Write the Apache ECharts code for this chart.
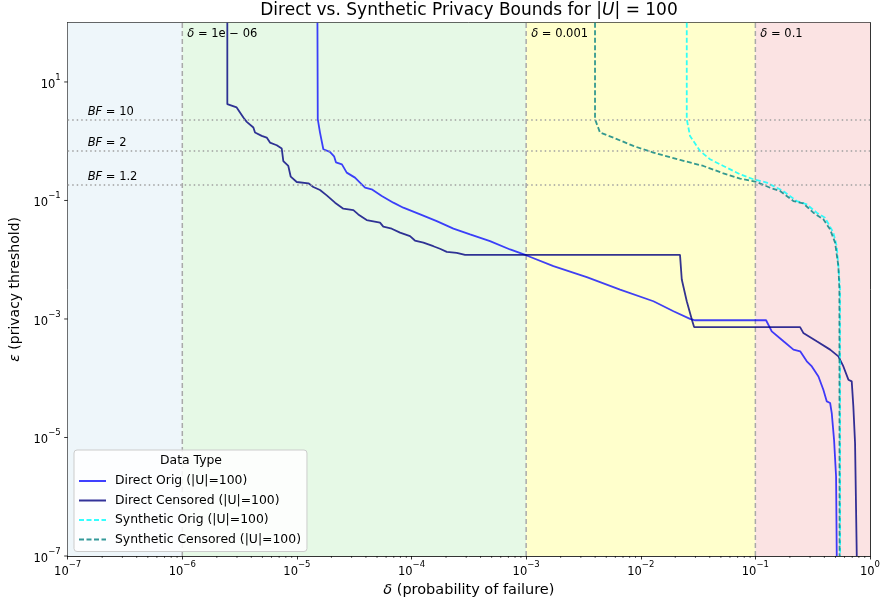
<!DOCTYPE html>
<html><head><meta charset="utf-8">
<script src="https://cdn.jsdelivr.net/npm/echarts@6/dist/echarts.min.js"></script>
<style>html,body{margin:0;padding:0;background:#fff}#c{width:883px;height:606px}</style>
</head><body><div id="c"></div>
<script>
// ---- data (delta, epsilon) ----
const directOrig = [[1.51e-5,100],[1.52e-5,2.35],[1.59e-5,1.40],[1.70e-5,0.731],[1.94e-5,0.663],[2.11e-5,0.557],[2.19e-5,0.441],[2.47e-5,0.407],[2.72e-5,0.295],[3.21e-5,0.243],[3.55e-5,0.200],[3.93e-5,0.164],[4.49e-5,0.154],[5.50e-5,0.119],[6.94e-5,0.0918],[8.48e-5,0.0755],[1.19e-4,0.0582],[1.66e-4,0.0449],[2.32e-4,0.0334],[3.24e-4,0.0267],[4.84e-4,0.0206],[7.24e-4,0.0149],[1.01e-3,0.0118],[1.73e-3,0.00778],[3.38e-3,0.00507],[6.60e-3,0.00314],[1.29e-2,0.00199],[1.93e-2,0.00135],[2.69e-2,0.001005],[2.98e-2,0.000951],[0.124,0.000951],[0.139,0.000619],[0.176,0.00042],[0.215,0.000304],[0.246,0.000284],[0.281,0.000193],[0.311,0.000158],[0.355,0.000107],[0.392,6.4e-5],[0.420,4.06e-5],[0.449,3.82e-5],[0.464,2.58e-5],[0.486,9.14e-6],[0.506,2.19e-6],[0.513,1e-7]];
const directCens = [[2.47e-6,100],[2.47e-6,4.22],[2.98e-6,3.71],[3.41e-6,2.51],[3.65e-6,2.12],[4.17e-6,1.70],[4.31e-6,1.40],[4.93e-6,1.23],[5.45e-6,1.15],[5.82e-6,0.948],[6.67e-6,0.855],[7.37e-6,0.752],[7.61e-6,0.463],[8.41e-6,0.382],[8.83e-6,0.252],[9.96e-6,0.205],[1.26e-5,0.195],[1.39e-5,0.169],[1.59e-5,0.150],[1.82e-5,0.122],[2.15e-5,0.0918],[2.54e-5,0.0726],[3.11e-5,0.0688],[3.43e-5,0.0582],[4.06e-5,0.0467],[5.31e-5,0.0422],[5.67e-5,0.0361],[6.72e-5,0.0334],[7.94e-5,0.0286],[9.70e-5,0.0250],[1.07e-4,0.0211],[1.27e-4,0.0194],[1.55e-4,0.0169],[1.77e-4,0.0153],[2.03e-4,0.0136],[2.48e-4,0.0131],[2.93e-4,0.0121],[0.0220,0.0121],[0.0228,0.00463],[0.0252,0.00199],[0.0279,0.000977],[0.0292,0.00073],[0.2455,0.00073],[0.262,0.000582],[0.343,0.00042],[0.449,0.000304],[0.530,0.000234],[0.586,0.000158],[0.648,9.45e-5],[0.693,8.85e-5],[0.716,3.34e-5],[0.741,8.03e-6],[0.767,1e-7]];
const synthOrig = [[0.0252,100],[0.0252,2.35],[0.0269,1.23],[0.0329,0.684],[0.0402,0.496],[0.0526,0.382],[0.0735,0.276],[0.0960,0.228],[0.1258,0.200],[0.1755,0.144],[0.2298,0.0977],[0.281,0.0859],[0.343,0.0622],[0.4056,0.0512],[0.479,0.0286],[0.513,0.0169],[0.530,0.00778],[0.548,0.00314],[0.549,1e-7]];
const synthCens = [[3.99e-3,100],[3.99e-3,2.35],[4.41e-3,1.40],[5.77e-3,1.15],[8.62e-3,0.832],[0.01288,0.643],[0.0220,0.482],[0.0352,0.382],[0.0526,0.287],[0.0735,0.234],[0.1028,0.205],[0.1344,0.164],[0.1642,0.144],[0.2146,0.0977],[0.262,0.0893],[0.3207,0.0622],[0.392,0.0480],[0.449,0.0324],[0.496,0.0194],[0.530,0.00778],[0.541,0.00314],[0.543,1e-7]];
const seriesNames = ['Direct Orig (|U|=100)','Direct Censored (|U|=100)','Synthetic Orig (|U|=100)','Synthetic Censored (|U|=100)'];
const deltaLines = [1e-6, 1e-3, 0.1];
const deltaLabels = ['1e − 06', '0.001', '0.1'];
const bandEdges = [1e-7, 1e-6, 1e-3, 1e-1, 1];
const bfValues = [10, 2, 1.2];
const yLabelTicks = [1e-7, 1e-5, 1e-3, 1e-1, 10];
const yRange = [1e-7, 100];

const FONT = 'DejaVu Sans';
const bandColors = ['#eef6fa', '#e6f9e6', '#ffffcc', '#fbe3e3'];

function sup(v) {
  const e = Math.round(Math.log10(v));
  return '{b|10}{s|' + (e < 0 ? '−' : '') + Math.abs(e) + '}';
}
const labelRich = {
  b: {fontSize: 11.5, fontFamily: FONT, color: '#000', lineHeight: 18, verticalAlign: 'bottom'},
  s: {fontSize: 8.5, fontFamily: FONT, color: '#000', lineHeight: 18, verticalAlign: 'top'}
};

// tick helper items
const tickItems = [];
for (let d = -7; d < 0; d++) for (let m = 2; m <= 9; m++) tickItems.push([m * Math.pow(10, d), 1e-7, 0]);
yLabelTicks.forEach(v => tickItems.push([1e-7, v, 1]));

const bandData = [];
for (let i = 0; i < 4; i++) {
  bandData.push([{xAxis: bandEdges[i], itemStyle: {color: bandColors[i]},
    label: i === 0 ? {show: false} : {show: true, formatter: '{d|δ} = ' + deltaLabels[i - 1]}},
    {xAxis: bandEdges[i + 1]}]);
}

const deltaSeries = deltaLines.map((v, i) => ({
  type: 'line', name: 'delta' + i, data: [[v, yRange[0]], [v, yRange[1]]], symbol: 'none', silent: true, z: 2,
  lineStyle: {color: '#a9a9a9', type: [5, 3], width: 1.5}
}));

const chart = echarts.init(document.getElementById('c'), null, {renderer: 'canvas'});
chart.setOption({
  animation: false,
  backgroundColor: '#fff',
  textStyle: {fontFamily: FONT},
  grid: {left: 67.7, right: 13, top: 22.7, bottom: 50},
  xAxis: [{
    type: 'log', min: 1e-7, max: 1, splitNumber: 7, position: 'bottom',
    axisLine: {show: true, onZero: false, lineStyle: {color: '#000', width: 0.8}},
    axisTick: {show: true, length: 3.5, lineStyle: {color: '#000', width: 0.8}},
    axisLabel: {margin: 4, formatter: v => sup(v), rich: labelRich},
    splitLine: {show: false},
    name: '{d|δ} (probability of failure)', nameLocation: 'middle', nameGap: 25,
    nameTextStyle: {fontSize: 14.5, fontFamily: FONT, color: '#000', rich: {d: {fontStyle: 'italic', fontSize: 14.5, fontFamily: FONT}}}
  }, {
    type: 'log', min: 1e-7, max: 1, position: 'top',
    axisLine: {show: true, onZero: false, lineStyle: {color: '#000', width: 0.8}},
    axisTick: {show: false}, axisLabel: {show: false}, splitLine: {show: false}
  }],
  yAxis: [{
    type: 'log', min: yRange[0], max: yRange[1], position: 'left',
    axisLine: {show: true, onZero: false, lineStyle: {color: '#000', width: 0.8}},
    axisTick: {show: false},
    axisLabel: {margin: 7, formatter: v => {
      const e = Math.round(Math.log10(v));
      return (e % 2 !== 0) ? sup(v) : '';
    }, rich: labelRich},
    splitLine: {show: false},
    name: '{e|ε} (privacy threshold)', nameLocation: 'middle', nameGap: 43,
    nameTextStyle: {fontSize: 14, fontFamily: FONT, color: '#000', rich: {e: {fontStyle: 'italic', fontSize: 14, fontFamily: FONT}}}
  }, {
    type: 'log', min: yRange[0], max: yRange[1], position: 'right',
    axisLine: {show: true, onZero: false, lineStyle: {color: '#000', width: 0.8}},
    axisTick: {show: false}, axisLabel: {show: false}, splitLine: {show: false}
  }],
  legend: {
    data: seriesNames, orient: 'vertical', left: 74, top: 450,
    padding: [25, 6, 6, 4], itemGap: 7.5, itemWidth: 27, itemHeight: 14,
    backgroundColor: 'rgba(255,255,255,0.85)', borderColor: '#cccccc', borderWidth: 1, borderRadius: 3,
    itemStyle: {opacity: 0},
    textStyle: {fontSize: 12.4, fontFamily: FONT, color: '#000', padding: [0, 0, 0, 4]},
    selectedMode: false
  },
  graphic: [{
    type: 'text', x: 469, y: 11, z: 100,
    style: {text: 'Direct vs. Synthetic Privacy Bounds for |{i|U}| = 100', font: '17px "DejaVu Sans"', fill: '#000',
      align: 'center', verticalAlign: 'middle', rich: {i: {fontStyle: 'italic', fontSize: 17, fontFamily: FONT}}}
  }, {
    type: 'text', x: 191, y: 461, z: 100,
    style: {text: 'Data Type', font: '12.4px "DejaVu Sans"', fill: '#000', align: 'center', verticalAlign: 'middle'}
  }],
  series: [{
    type: 'line', name: 'bands', data: [[1e-7, 1e-7]], symbol: 'none', silent: true, z: 1,
    lineStyle: {width: 0},
    markArea: {
      silent: true,
      label: {position: 'insideTopLeft', distance: 5, color: '#000', fontSize: 11.5, fontFamily: FONT,
        rich: {d: {fontStyle: 'italic', fontSize: 11.5, fontFamily: FONT}}},
      data: bandData
    }
  }, {
    type: 'line', name: 'refLines', data: [[1e-7, 1e-7]], symbol: 'none', silent: true, z: 2,
    lineStyle: {width: 0},
    markLine: {
      silent: true, symbol: 'none', animation: false, precision: 10,
      data: bfValues.map(b => ({yAxis: Math.log(b),
          lineStyle: {color: '#a0a0a0', type: [1.5, 3], width: 1.5},
          label: {show: true, position: 'insideStartTop', distance: [20, 2], formatter: '{i|BF} = ' + b,
            color: '#000', fontSize: 11.5, fontFamily: FONT, rich: {i: {fontStyle: 'italic', fontSize: 11.5, fontFamily: FONT}}}}))
    }
  }].concat(deltaSeries, [{
    type: 'line', name: seriesNames[0], data: directOrig, symbol: 'none', z: 3,
    lineStyle: {color: 'rgba(0,0,255,0.75)', width: 1.8}, itemStyle: {color: 'rgba(0,0,255,0.75)'}
  }, {
    type: 'line', name: seriesNames[1], data: directCens, symbol: 'none', z: 3,
    lineStyle: {color: 'rgba(0,0,128,0.8)', width: 1.8}, itemStyle: {color: 'rgba(0,0,128,0.8)'}
  }, {
    type: 'line', name: seriesNames[2], data: synthOrig, symbol: 'none', z: 3,
    lineStyle: {color: 'rgba(0,255,255,0.8)', width: 1.8, type: [5, 2.5]}, itemStyle: {color: 'rgba(0,255,255,0.8)'}
  }, {
    type: 'line', name: seriesNames[3], data: synthCens, symbol: 'none', z: 3,
    lineStyle: {color: 'rgba(0,128,128,0.8)', width: 1.8, type: [5, 2.5]}, itemStyle: {color: 'rgba(0,128,128,0.8)'}
  }, {
    type: 'custom', name: 'ticks', data: tickItems, silent: true, clip: false, z: 10,
    encode: {x: 0, y: 1},
    renderItem: (params, api) => {
      const kind = api.value(2);
      const p = api.coord([api.value(0), api.value(1)]);
      if (kind === 0) return {type: 'line', shape: {x1: p[0], y1: p[1], x2: p[0], y2: p[1] + 2}, style: {stroke: '#000', lineWidth: 0.6}};
      return {type: 'line', shape: {x1: p[0] - 3.5, y1: p[1], x2: p[0], y2: p[1]}, style: {stroke: '#000', lineWidth: 0.8}};
    }
  }])
});
</script></body></html>
